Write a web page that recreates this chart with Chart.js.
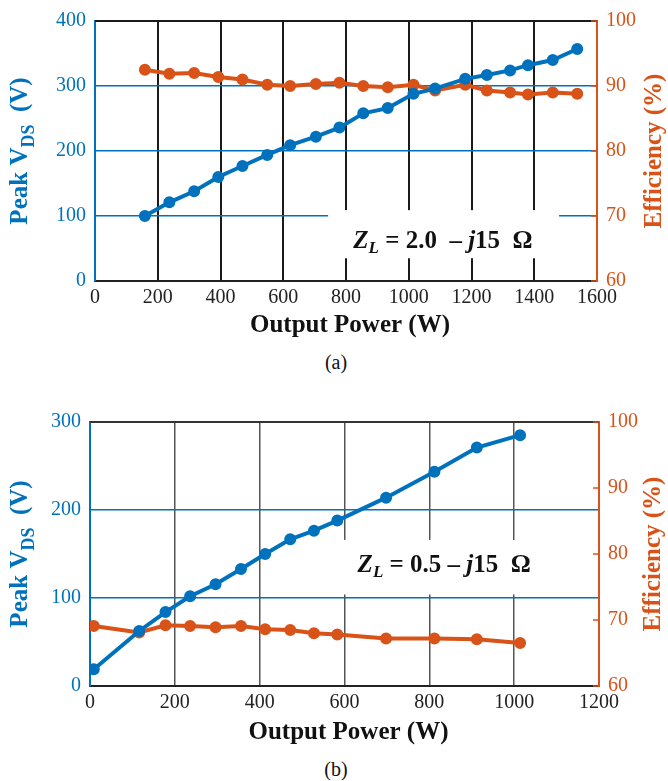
<!DOCTYPE html>
<html>
<head>
<meta charset="utf-8">
<script src="https://cdn.jsdelivr.net/npm/chart.js@4/dist/chart.umd.min.js"></script>
<style>
  body { margin: 0; background: #fff; width: 668px; height: 781px; position: relative; overflow: hidden; }
  canvas { position: absolute; left: 0; }
  .cap { position: absolute; width: 668px; font: 20px "Liberation Serif", serif; color: #111; }
</style>
</head>
<body>
<canvas id="chartA" width="668" height="345" style="top:0"></canvas>
<div class="cap" style="top:351px; left:0; text-align:center; padding-left:2px">(a)</div>
<canvas id="chartB" width="668" height="355" style="top:400px"></canvas>
<div class="cap" style="top:758px; left:0; text-align:center; padding-left:2px">(b)</div>
<script>
/* (a) Z_L = 2.0 - j15 ohm */
var powerA = [159, 237, 316, 393, 470, 549, 622, 704, 779, 855, 933, 1015, 1084, 1180, 1249, 1323, 1380, 1459, 1537];
var vdsA   = [100, 121, 138, 160, 177, 194, 209, 222, 236, 258, 266, 288, 296, 311, 317, 324, 332, 340, 357];
var effA   = [92.5, 91.9, 92.0, 91.4, 91.0, 90.2, 90.0, 90.3, 90.5, 90.0, 89.8, 90.2, 89.3, 90.2, 89.3, 89.0, 88.7, 89.0, 88.8];

/* (b) Z_L = 0.5 - j15 ohm */
var powerB = [9, 116, 178, 236, 296, 356, 413, 472, 528, 583, 698, 812, 912, 1014];
var vdsB   = [19, 62.5, 84, 102, 115.6, 133, 150, 166.7, 176.5, 188, 214, 243.5, 271, 285];
var effB   = [69.1, 68.1, 69.2, 69.1, 68.9, 69.1, 68.6, 68.5, 68.0, 67.8, 67.2, 67.2, 67.1, 66.5];

var BLUE = '#0072BD';
var ORANGE = '#D95319';
var SERIF = '"Liberation Serif", "Times New Roman", serif';

function pairs(xs, ys) {
  return xs.map(function (x, i) { return { x: x, y: ys[i] }; });
}

/* draw a run of text pieces (font, text, dy) centred on 0,0 */
function drawRich(ctx, pieces, color) {
  var total = 0;
  pieces.forEach(function (p) { ctx.font = p.font; p.w = ctx.measureText(p.text).width; total += p.w; });
  var x = -total / 2;
  ctx.fillStyle = color;
  ctx.textBaseline = 'middle';
  ctx.textAlign = 'left';
  pieces.forEach(function (p) {
    ctx.font = p.font;
    ctx.fillText(p.text, x, p.dy || 0);
    x += p.w;
  });
}

var decorPlugin = {
  id: 'decor',
  beforeDatasetsDraw: function (chart) {
    var o = chart.options.plugins.decor;
    var ctx = chart.ctx, a = chart.chartArea;
    var xs = chart.scales.x, ys = chart.scales.y, y1 = chart.scales.y1;
    ctx.save();
    // white box behind the impedance label
    var bx0 = xs.getPixelForValue(o.box[0]), bx1 = xs.getPixelForValue(o.box[1]);
    var by0 = ys.getPixelForValue(o.box[3]), by1 = ys.getPixelForValue(o.box[2]);
    ctx.fillStyle = '#fff';
    ctx.fillRect(bx0, by0, bx1 - bx0, by1 - by0);
    // top frame line
    ctx.strokeStyle = o.topColor;
    ctx.lineWidth = 2;
    ctx.beginPath();
    ctx.moveTo(a.left, a.top);
    ctx.lineTo(a.right, a.top);
    ctx.stroke();
    // inward ticks on the right axis
    ctx.strokeStyle = ORANGE;
    ctx.lineWidth = 1.5;
    y1.ticks.forEach(function (t) {
      var py = y1.getPixelForValue(t.value);
      ctx.beginPath();
      ctx.moveTo(a.right, py);
      ctx.lineTo(a.right - 6, py);
      ctx.stroke();
    });
    ctx.restore();
  },
  afterDraw: function (chart) {
    var o = chart.options.plugins.decor;
    var ctx = chart.ctx, a = chart.chartArea;
    var xs = chart.scales.x, ys = chart.scales.y;
    var big = 'bold 25px ' + SERIF, sub = 'bold 18px ' + SERIF;
    var midY = (a.top + a.bottom) / 2;
    ctx.save();
    // impedance label
    ctx.save();
    ctx.translate(xs.getPixelForValue(o.label[0]), ys.getPixelForValue(o.label[1]));
    var lf = 'bold 25px ' + SERIF, lfi = 'italic bold 25px ' + SERIF, lsi = 'italic bold 17px ' + SERIF;
    drawRich(ctx, [
      { font: lfi, text: 'Z' },
      { font: lsi, text: 'L', dy: 7 },
      { font: lf, text: o.labelText[0] },
      { font: lfi, text: 'j' },
      { font: lf, text: o.labelText[1] }
    ], '#111');
    ctx.restore();
    // left axis title
    ctx.save();
    ctx.translate(o.leftTitleX, midY);
    ctx.rotate(-Math.PI / 2);
    drawRich(ctx, [
      { font: big, text: 'Peak V' },
      { font: sub, text: 'DS', dy: 8 },
      { font: big, text: '  (V)' }
    ], BLUE);
    ctx.restore();
    // right axis title
    ctx.save();
    ctx.translate(o.rightTitleX, midY);
    ctx.rotate(-Math.PI / 2);
    drawRich(ctx, [{ font: big, text: 'Efficiency (%)' }], ORANGE);
    ctx.restore();
    // x axis title
    ctx.save();
    ctx.translate((a.left + a.right) / 2 + 4, o.xTitleY);
    drawRich(ctx, [{ font: big, text: 'Output Power (W)' }], '#111');
    ctx.restore();
    ctx.restore();
  }
};

function plain(v) { return String(v); }

function makeChart(canvasId, s) {
  var ctx = document.getElementById(canvasId).getContext('2d');
  return new Chart(ctx, {
    type: 'line',
    data: {
      datasets: [{
        label: 'Peak VDS',
        data: pairs(s.power, s.vds),
        yAxisID: 'y',
        borderColor: BLUE,
        backgroundColor: BLUE,
        borderWidth: 4,
        pointRadius: 4,
        pointHoverRadius: 4,
        tension: 0
      }, {
        label: 'Efficiency',
        data: pairs(s.power, s.eff),
        yAxisID: 'y1',
        borderColor: ORANGE,
        backgroundColor: ORANGE,
        borderWidth: 4,
        pointRadius: 4,
        pointHoverRadius: 4,
        tension: 0
      }]
    },
    options: {
      responsive: false,
      animation: false,
      events: [],
      layout: { padding: { top: s.padTop, left: 0, right: 0, bottom: 0 } },
      plugins: {
        legend: { display: false },
        tooltip: { enabled: false },
        decor: s.decor
      },
      scales: {
        x: {
          type: 'linear',
          min: 0, max: s.xMax,
          afterFit: function (sc) { sc.height = s.xAxisH; },
          ticks: { stepSize: 200, color: '#222', padding: 5, font: { family: SERIF, size: 20 }, callback: plain },
          grid: {
            drawTicks: false,
            lineWidth: s.vGridW,
            color: function (c) { return (c.tick.value === 0 || c.tick.value === s.xMax) ? 'rgba(0,0,0,0)' : s.vGridColor; }
          },
          border: { color: '#222', width: 2 }
        },
        y: {
          position: 'left',
          min: 0, max: s.yMax,
          afterFit: function (sc) { sc.width = s.leftW; },
          ticks: { stepSize: 100, color: BLUE, padding: 9, font: { family: SERIF, size: 20 }, callback: plain },
          grid: {
            drawTicks: false,
            lineWidth: 1.5,
            color: function (c) { return (c.tick.value === 0 || c.tick.value === s.yMax) ? 'rgba(0,0,0,0)' : BLUE; }
          },
          border: { color: BLUE, width: 2 }
        },
        y1: {
          position: 'right',
          min: 60, max: 100,
          afterFit: function (sc) { sc.width = s.rightW; },
          ticks: { stepSize: 10, color: ORANGE, padding: 9, font: { family: SERIF, size: 20 }, callback: plain },
          grid: { drawOnChartArea: false, drawTicks: false },
          border: { color: ORANGE, width: 2 }
        }
      }
    },
    plugins: [decorPlugin]
  });
}

makeChart('chartA', {
  power: powerA, vds: vdsA, eff: effA,
  xMax: 1600, yMax: 400,
  padTop: 17, xAxisH: 64, leftW: 95, rightW: 71,
  vGridColor: '#1a1a1a', vGridW: 2,
  decor: {
    box: [743, 1479, 35, 109],
    label: [1109, 60],
    labelText: [' = 2.0  \u2013 ', '15  \u03A9'],
    topColor: '#1a1a1a',
    leftTitleX: 21, rightTitleX: 655, xTitleY: 326
  }
});

makeChart('chartB', {
  power: powerB, vds: vdsB, eff: effB,
  xMax: 1200, yMax: 300,
  padTop: 22, xAxisH: 69, leftW: 90, rightW: 69,
  vGridColor: '#555', vGridW: 1.5,
  decor: {
    box: [575, 1065, 104, 166],
    label: [835, 137],
    labelText: [' = 0.5 \u2013 ', '15  \u03A9'],
    topColor: '#333',
    leftTitleX: 21, rightTitleX: 654, xTitleY: 333
  }
});
</script>
</body>
</html>
